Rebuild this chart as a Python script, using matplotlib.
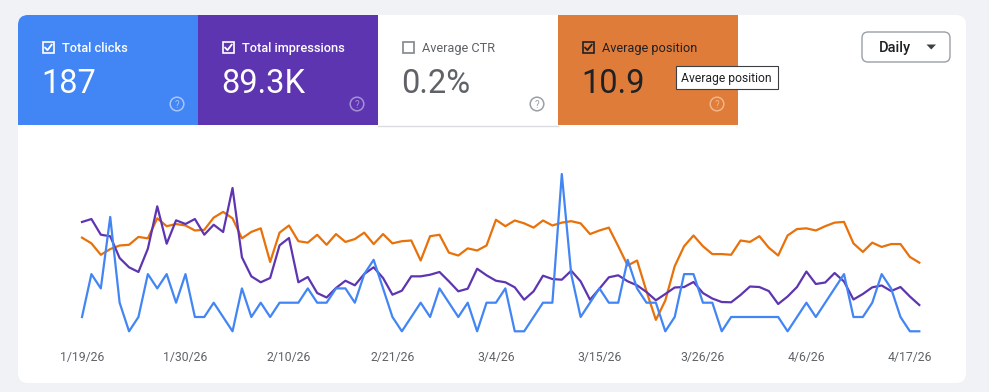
import matplotlib
matplotlib.use('Agg')
import matplotlib.pyplot as plt
from matplotlib.patches import FancyBboxPatch, Rectangle, Circle, Polygon
import numpy as np

plt.rcParams['font.family'] = ['Roboto', 'DejaVu Sans']

# ---------------- data ----------------
clicks = [1, 4, 3, 8, 2, 0, 1, 4, 3, 4, 2, 4, 1, 1,
          2, 1, 0, 3, 1, 2, 1, 2, 2, 2, 3, 2, 2,
          3, 3, 2, 4, 5, 3, 1, 0, 1, 2, 1,
          3, 2, 1, 2, 0, 2, 2, 3, 0, 0, 1, 2, 2, 11,
          4, 1, 2, 3, 2, 2, 5, 3, 2, 2, 0, 1, 4,
          4, 2, 2, 0, 1, 1, 1, 1, 1, 1, 0, 1, 2,
          1, 2, 3, 4, 1, 1, 2, 4, 3, 1, 0, 0]

impressions = [1911, 1963, 1689, 1661, 1281, 1119, 1037, 1444, 2185, 1531, 1940, 1876, 1963, 1689,
               1863, 1736, 2505, 1294, 961, 857, 932, 1503, 1631, 857, 949, 669, 591,
               757, 884, 804, 1002, 1119, 932, 640, 710, 961, 961, 989,
               1037, 874, 699, 745, 1094, 979, 884, 857, 769, 552, 699, 972, 914, 902,
               1059, 874, 552, 745, 944, 979, 874, 804, 687, 542, 652, 766, 774,
               862, 669, 573, 512, 507, 635, 783, 774, 704, 477, 608, 774, 1045,
               827, 853, 1019, 870, 556, 652, 769, 801, 704, 774, 608, 460]

position = [10.9, 11.7, 13.3, 12.5, 12.0, 11.9, 10.8, 11.0, 8.2, 9.3, 9.0, 9.2, 9.9, 9.8,
            8.1, 7.3, 8.2, 11.0, 10.1, 9.6, 14.3, 10.2, 9.2, 11.4, 11.6, 10.5, 11.9,
            10.4, 11.5, 11.1, 10.2, 11.8, 10.4, 11.7, 11.4, 11.3, 14.1, 10.7,
            10.5, 13.0, 13.4, 12.4, 12.7, 12.0, 8.4, 9.3, 8.5, 8.9, 9.5, 8.5, 9.2, 8.8,
            8.6, 8.9, 10.4, 9.9, 9.5, 12.1, 14.8, 14.1, 18.4, 22.4, 19.7, 14.9, 12.1,
            10.6, 12.1, 13.2, 13.2, 13.3, 11.3, 11.5, 10.7, 12.3, 13.4, 10.6, 9.7, 9.6,
            9.9, 9.3, 8.8, 8.7, 11.7, 12.9, 11.6, 12.2, 11.8, 11.8, 13.6, 14.4]

tick_labels = ['1/19/26', '1/30/26', '2/10/26', '2/21/26', '3/4/26',
               '3/15/26', '3/26/26', '4/6/26', '4/17/26']
tick_step = 11

tile_titles = ['Total clicks', 'Total impressions', 'Average CTR', 'Average position']
tile_values = ['187', '89.3K', '0.2%', '10.9']
tile_checked = [True, True, False, True]

# ---------------- styles ----------------
W, H = 989, 392
C_BLUE = '#4285f4'
C_PURPLE = '#5e35b1'
C_ORANGE = '#e8710a'
C_ORANGE_TILE = '#e07c39'

fig = plt.figure(figsize=(W / 100, H / 100), dpi=100)
fig.patch.set_facecolor('#f0f2f5')

bg = fig.add_axes([0, 0, 1, 1])
bg.set_xlim(0, W)
bg.set_ylim(H, 0)
bg.axis('off')

# white card
bg.add_patch(FancyBboxPatch((18, 15), 948, 368, boxstyle='round,pad=0,rounding_size=10',
                            fc='white', ec='none', zorder=0))

# tiles
tile_x = [18, 198, 378, 558]
tile_w = 180
tile_top, tile_h = 15, 110
tile_fc = [C_BLUE, C_PURPLE, 'white', C_ORANGE_TILE]
title_col = ['white', 'white', '#5f6368', '#202124']
title_wt = ['medium', 'medium', 'normal', 'normal']
value_col = ['white', 'white', '#5f6368', '#202124']
icon_col = ['#a9c6fa', '#a690d6', '#9aa0a6', '#f0b589']
box_col = ['white', 'white', '#80868b', '#202124']

# blue tile with rounded top-left corner
bg.add_patch(FancyBboxPatch((18, tile_top), tile_w, tile_h, boxstyle='round,pad=0,rounding_size=10',
                            fc=C_BLUE, ec='none', zorder=1))
bg.add_patch(Rectangle((30, tile_top), tile_w - 12, tile_h, fc=C_BLUE, ec='none', zorder=1))
bg.add_patch(Rectangle((18, tile_top + 12), tile_w, tile_h - 12, fc=C_BLUE, ec='none', zorder=1))
for i in (1, 3):
    bg.add_patch(Rectangle((tile_x[i], tile_top), tile_w, tile_h, fc=tile_fc[i], ec='none', zorder=1))
bg.plot([378, 558], [125.5, 125.5], color='#dadce0', lw=1, zorder=2)

for i in range(4):
    x0 = tile_x[i]
    # checkbox
    bx, by = x0 + 24.5, 41.5
    bg.add_patch(Rectangle((bx, by), 11.5, 11.5, fc='none', ec=box_col[i], lw=1.2, zorder=3))
    if tile_checked[i]:
        bg.plot([bx + 2.5, bx + 5, bx + 9.3], [by + 6, by + 8.6, by + 3],
                color=box_col[i], lw=1.3, zorder=3, solid_capstyle='round')
    bg.text(x0 + 43.5, 51.5, tile_titles[i], color=title_col[i], fontsize=9.2,
            fontweight=title_wt[i], va='baseline', ha='left', zorder=3)
    bg.text(x0 + 23.5, 93, tile_values[i], color=value_col[i], fontsize=23.5,
            va='baseline', ha='left', zorder=3)
    # help icon
    cx, cy = x0 + 159, 104
    bg.add_patch(Circle((cx, cy), 6.8, fill=False, ec=icon_col[i], lw=1.1, zorder=3))
    bg.text(cx, cy + 0.5, '?', color=icon_col[i], fontsize=7, ha='center', va='center', zorder=3)

# tooltip
bg.add_patch(Rectangle((676, 66), 102, 23, fc='white', ec='#3c4043', lw=0.8, zorder=4))
bg.text(681, 78, 'Average position', fontsize=8.7, color='#202124', va='center', ha='left', zorder=5)

# Daily dropdown
bg.add_patch(FancyBboxPatch((862, 32), 88, 30, boxstyle='round,pad=0,rounding_size=6',
                            fc='white', ec='#9aa0a6', lw=1, zorder=3))
bg.text(879, 47.5, 'Daily', fontsize=10.5, color='#202124', fontweight='medium',
        va='center', ha='left', zorder=4)
bg.add_patch(Polygon([(926.5, 44.5), (936, 44.5), (931.25, 49.5)], closed=True,
                     fc='#3c4043', ec='none', zorder=4))

# ---------------- chart ----------------
x = np.arange(len(clicks))
left_px, right_px = 82, 919.3
bottom_px, top_px = 331.3, 159.7
pos = [left_px / W, (H - bottom_px) / H, (right_px - left_px) / W, (bottom_px - top_px) / H]

ax_pos = fig.add_axes(pos)
ax_pos.set_facecolor('none')
ax_imp = ax_pos.twinx()
ax_clk = ax_pos.twinx()

ax_pos.plot(x, position, color=C_ORANGE, lw=1.6, clip_on=False, zorder=3)
ax_pos.set_ylim(24, 0)
ax_imp.plot(x, impressions, color=C_PURPLE, lw=1.6, clip_on=False, zorder=3)
ax_imp.set_ylim(0, 3000)
ax_clk.plot(x, clicks, color=C_BLUE, lw=1.6, clip_on=False, zorder=3)
ax_clk.set_ylim(0, 12)

ax_pos.set_xlim(0, len(clicks) - 1)
for a in (ax_pos, ax_imp, ax_clk):
    for s in a.spines.values():
        s.set_visible(False)
    a.set_yticks([])
ax_pos.set_xticks(np.arange(0, len(clicks), tick_step)[:len(tick_labels)])
ax_pos.set_xticklabels(tick_labels, fontsize=8.8, color='#5f6368')
ax_pos.tick_params(axis='x', length=0, pad=14.5)
ax_imp.tick_params(axis='x', length=0, labelbottom=False)
ax_clk.tick_params(axis='x', length=0, labelbottom=False)

fig.savefig('out.png', dpi=100, facecolor=fig.get_facecolor())
